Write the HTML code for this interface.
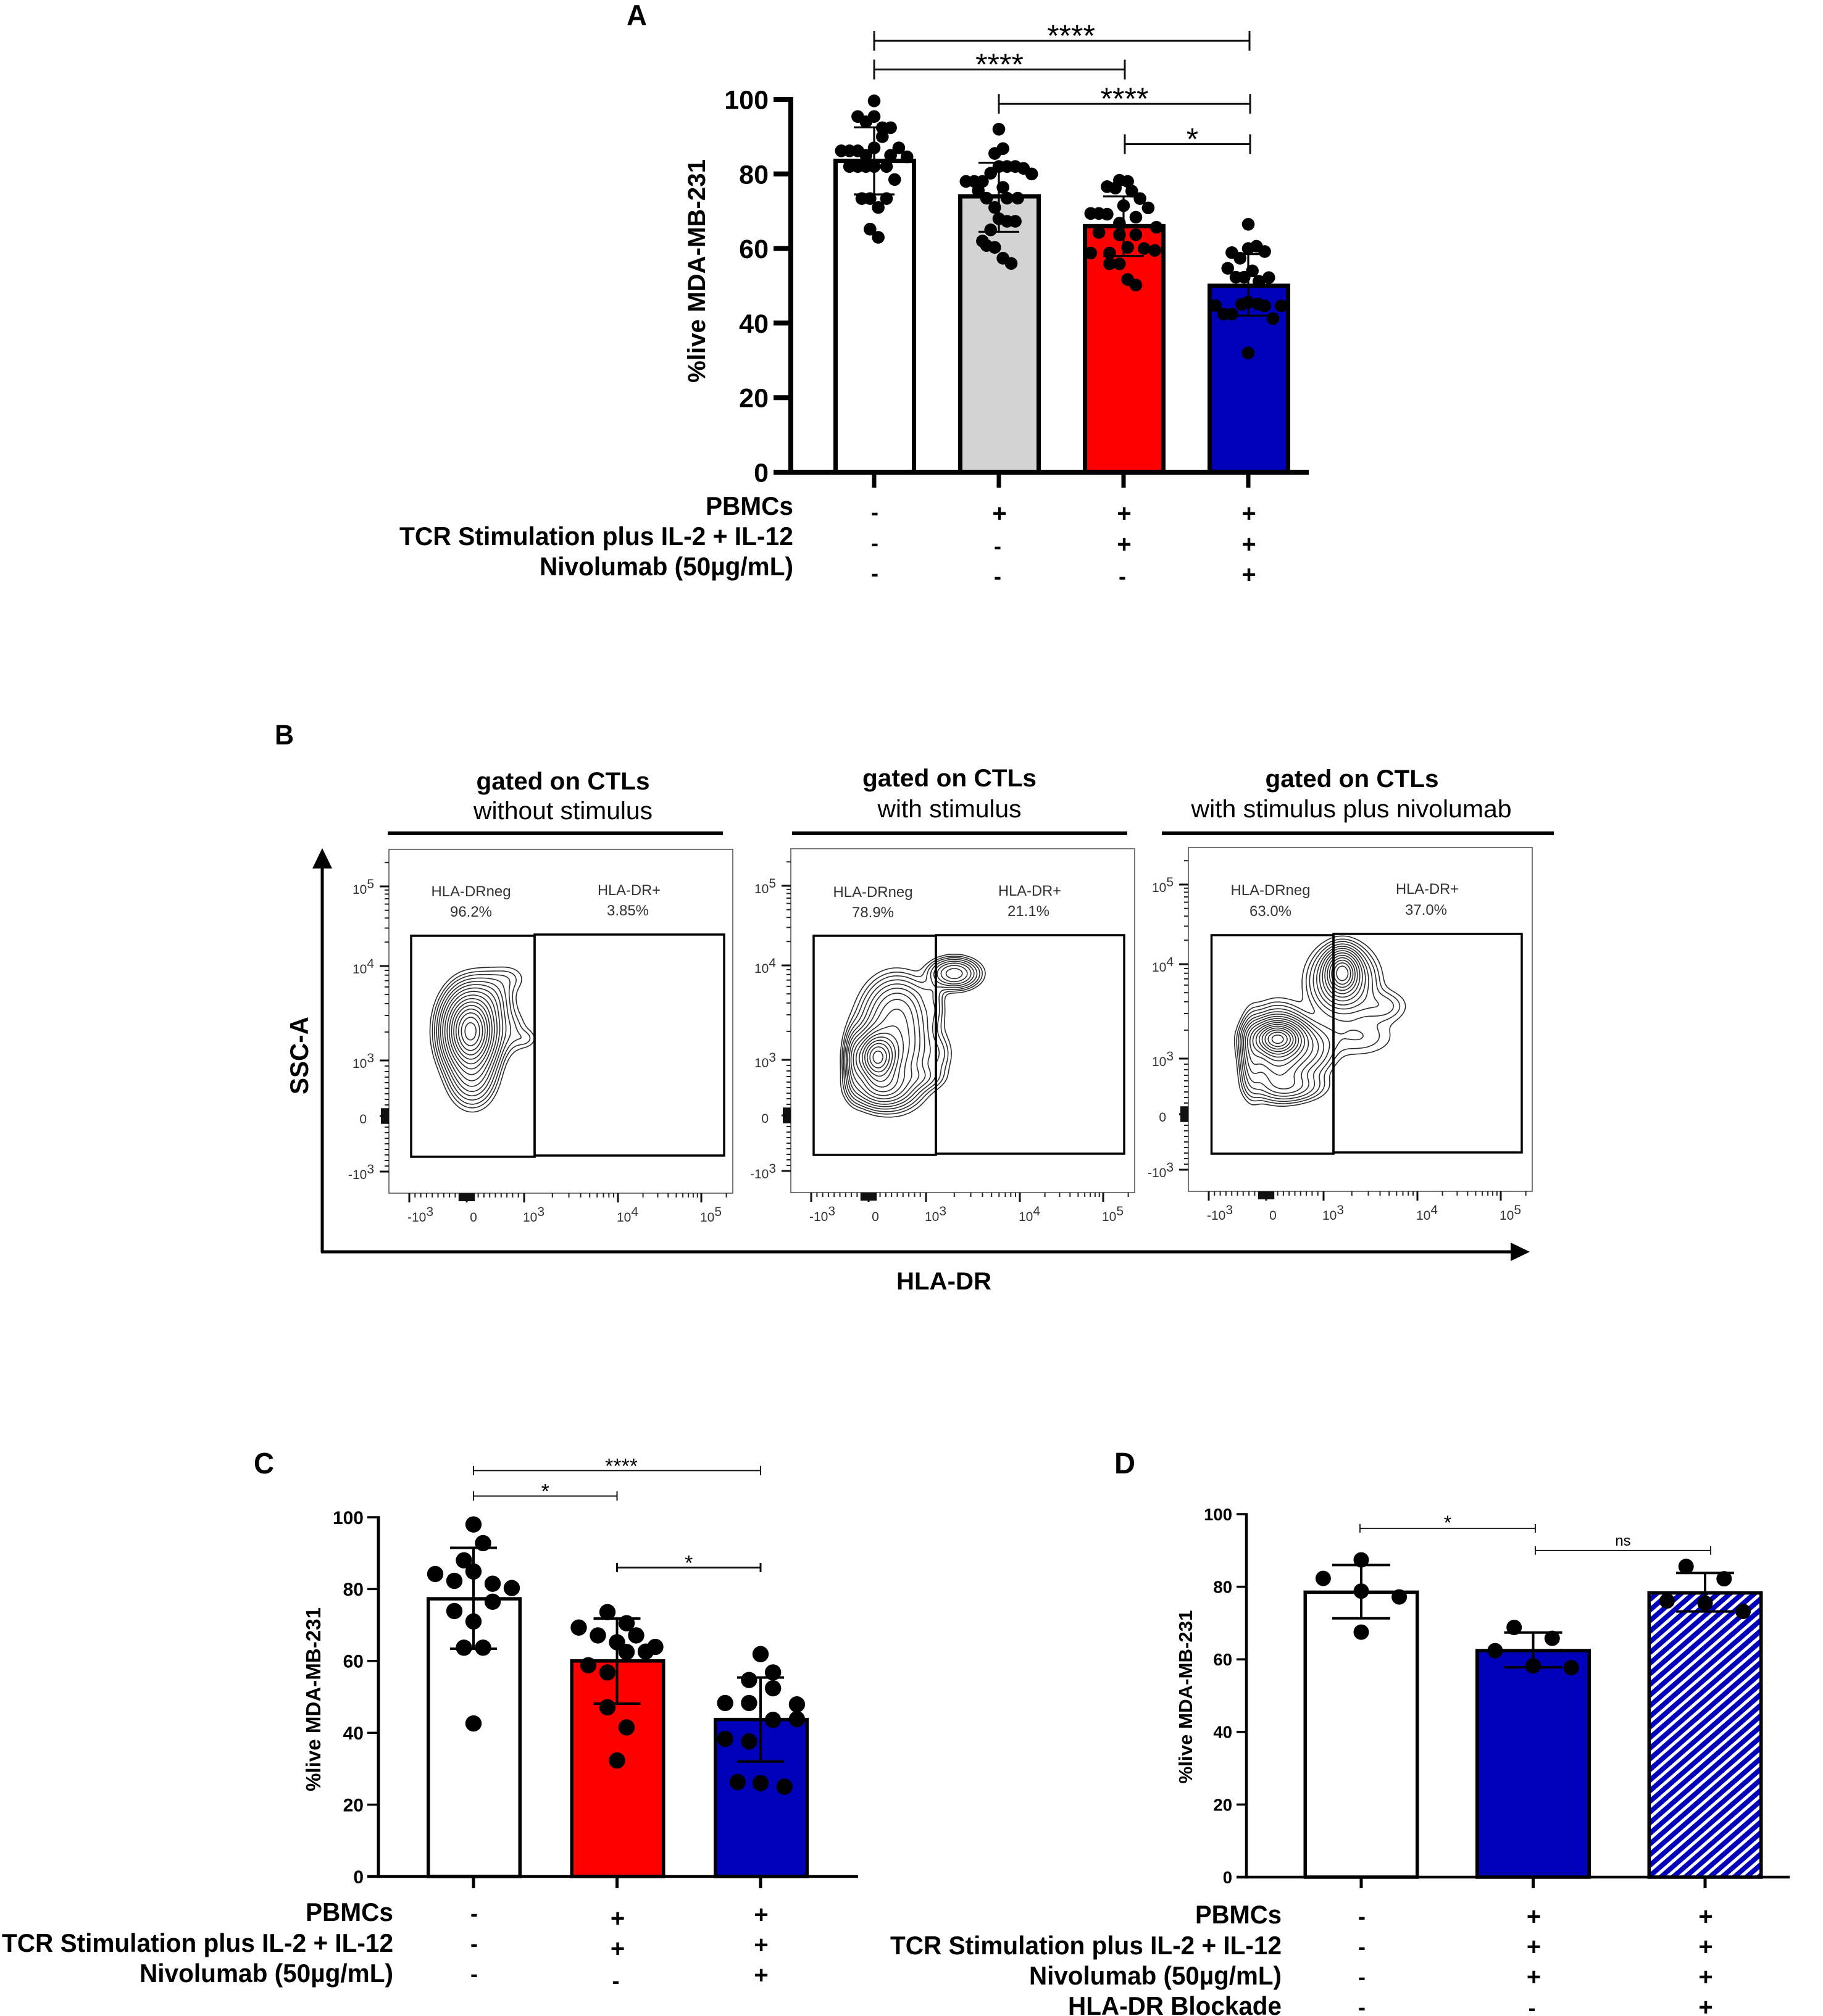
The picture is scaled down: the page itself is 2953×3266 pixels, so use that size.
<!DOCTYPE html>
<html lang="en">
<head>
<meta charset="utf-8">
<title>Figure: live MDA-MB-231 with HLA-DR flow cytometry</title>
<style>
html,body{margin:0;padding:0;background:#fff;}
svg{display:block;}
text{font-family:"Liberation Sans",sans-serif;}
.b{font-weight:700;}
</style>
</head>
<body>
<svg id="fig" xmlns="http://www.w3.org/2000/svg" width="2953" height="3266" viewBox="0 0 2953 3266">
<defs>
<pattern id="hatch" width="13" height="13" patternUnits="userSpaceOnUse" patternTransform="rotate(49)">
<rect width="13" height="13" fill="#fff"/>
<rect width="8" height="13" fill="#0000bb"/>
</pattern>
</defs>
<rect width="2953" height="3266" fill="#fff"/>

<text class="b" x="1015" y="41" font-size="47" textLength="33" lengthAdjust="spacingAndGlyphs">A</text>
<text class="b" x="445" y="1206" font-size="45" textLength="31" lengthAdjust="spacingAndGlyphs">B</text>
<text class="b" x="411" y="2387" font-size="48" textLength="33" lengthAdjust="spacingAndGlyphs">C</text>
<text class="b" x="1805" y="2387" font-size="48" textLength="34" lengthAdjust="spacingAndGlyphs">D</text>

<text class="b" transform="translate(1142,439) rotate(-90)" text-anchor="middle" font-size="40" textLength="362" lengthAdjust="spacingAndGlyphs">%live MDA-MB-231</text>
<text class="b" transform="translate(519,2753) rotate(-90)" text-anchor="middle" font-size="33" textLength="298" lengthAdjust="spacingAndGlyphs">%live MDA-MB-231</text>
<text class="b" transform="translate(1931,2749) rotate(-90)" text-anchor="middle" font-size="31" textLength="281" lengthAdjust="spacingAndGlyphs">%live MDA-MB-231</text>

<g class="b" font-size="42" text-anchor="end">
<text x="1285" y="834" textLength="142" lengthAdjust="spacingAndGlyphs">PBMCs</text>
<text x="1285" y="883" textLength="638" lengthAdjust="spacingAndGlyphs">TCR Stimulation plus IL-2 + IL-12</text>
<text x="1285" y="932" textLength="411" lengthAdjust="spacingAndGlyphs">Nivolumab (50µg/mL)</text>
</g>
<g class="b" font-size="42" text-anchor="end">
<text x="637" y="3112" textLength="142" lengthAdjust="spacingAndGlyphs">PBMCs</text>
<text x="637" y="3162" textLength="634" lengthAdjust="spacingAndGlyphs">TCR Stimulation plus IL-2 + IL-12</text>
<text x="637" y="3211" textLength="411" lengthAdjust="spacingAndGlyphs">Nivolumab (50µg/mL)</text>
</g>
<g class="b" font-size="42" text-anchor="end">
<text x="2076" y="3116" textLength="140" lengthAdjust="spacingAndGlyphs">PBMCs</text>
<text x="2076" y="3166" textLength="634" lengthAdjust="spacingAndGlyphs">TCR Stimulation plus IL-2 + IL-12</text>
<text x="2076" y="3215" textLength="409" lengthAdjust="spacingAndGlyphs">Nivolumab (50µg/mL)</text>
<text x="2076" y="3264" textLength="346" lengthAdjust="spacingAndGlyphs">HLA-DR Blockade</text>
</g>

<g font-size="40" text-anchor="middle">
<text class="b" x="912" y="1279" textLength="281" lengthAdjust="spacingAndGlyphs">gated on CTLs</text>
<text x="912" y="1327" textLength="290" lengthAdjust="spacingAndGlyphs">without stimulus</text>
<rect x="628" y="1347" width="543" height="6"/>
<text class="b" x="1538" y="1274" textLength="282" lengthAdjust="spacingAndGlyphs">gated on CTLs</text>
<text x="1538" y="1324" textLength="233" lengthAdjust="spacingAndGlyphs">with stimulus</text>
<rect x="1283" y="1347" width="543" height="6"/>
<text class="b" x="2190" y="1275" textLength="281" lengthAdjust="spacingAndGlyphs">gated on CTLs</text>
<text x="2189" y="1324" textLength="519" lengthAdjust="spacingAndGlyphs">with stimulus plus nivolumab</text>
<rect x="1882" y="1347" width="635" height="6"/>
</g>

<g>
<line x1="522" y1="1400" x2="522" y2="2029" stroke="#000" stroke-width="5"/>
<polygon points="522,1374 538,1407 506,1407"/>
<line x1="520" y1="2028" x2="2455" y2="2028" stroke="#000" stroke-width="5"/>
<polygon points="2478,2028 2447,2013 2447,2043"/>
<text class="b" transform="translate(499,1710) rotate(-90)" text-anchor="middle" font-size="42" textLength="126" lengthAdjust="spacingAndGlyphs">SSC-A</text>
<text class="b" x="1529" y="2089" text-anchor="middle" font-size="40" textLength="154" lengthAdjust="spacingAndGlyphs">HLA-DR</text>
</g>

<g id="layer"></g>
</svg>

<script>
/* ---------- Panel A data ---------- */
const aCategories = ['control','pbmc','stim','stim-nivolumab'];
const aMeans = [83.5, 74, 66, 50];
const aUpper = [92.5, 83, 74, 58.5];
const aLower = [74.5, 64.5, 58, 42];
const aDots = [
  [99.6,95.4,95.4,94,92.4,92.4,90,87,87,86.2,86.2,86.2,85,85,84.6,82,82,82,82,82,78.5,73.4,73.4,73.4,71,65.2,63],
  [92,86.8,85.5,82,82,81.5,80,82,80.2,78,78,78,76.4,75.5,73.5,73.5,73.5,71,68,67.3,67.3,65,62,60.8,60.3,57.4,56],
  [78.3,78,76.6,76.2,75.4,73.4,71.5,70.9,69.4,69.4,69.2,68.4,66.8,65.7,64.3,63.7,63.7,60.3,60,59.5,58.8,58.8,55.9,55.9,51.7,50.2],
  [66.5,58.9,60,60.6,59.2,57.4,54.7,54,52.3,52.3,52.2,51.2,44.7,45,45.6,45.1,44.6,44.6,42.4,42.4,41.2,32]
];
const aSlots = [
  [0,-2,0,-1,1,2,1,0,3,-4,-3,-2,-1,2,4,-3,-2,-1,0,1.5,2.5,-1.5,-0.5,1.5,0.5,-0.5,0.5],
  [0,0.5,-0.5,0,2,3,4,1,-1,-4,-3,-2,0.5,-2.5,-1.5,1,2.3,-0.5,0,1,2,-1,-2,-1.5,-0.5,0.5,1.5],
  [-0.5,0.5,-2,-1,1,2,0,3,-4,-3,-2,1.5,-0.5,4,-3,-0.5,1.5,0.5,2.5,3.8,-4,-1.7,-1.7,-0.5,0.5,1.5],
  [0,-2,0,1,2,-1,-2.5,0.5,-1.5,-0.5,2.5,1.3,-4,-0.8,0,1.2,2,4,-3,-2,3,0]
];
const aTicks = [0,20,40,60,80,100];
const aBracketFrom = [0,0,1,2];
const aBracketTo = [3,2,3,3];
const aBracketLevel = [115.7,108,98.8,88];
const aBracketLabel = ['****','****','****','*'];
const aSigns = [['-','+','+','+'],['-','-','+','+'],['-','-','-','+']];

/* ---------- Panel C data ---------- */
const cCategories = ['control','stim','stim-nivolumab'];
const cMeans = [77.3, 60, 43.7];
const cUpper = [91.5, 71.8, 55.4];
const cLower = [63.4, 48.1, 32];
const cDots = [
  [98,92.8,88,84.9,84.2,82.3,81.5,80.3,76.5,73.9,71,63.7,63.7,42.6],
  [73.6,70.5,69.3,67.1,67.1,65.2,63.9,62.6,62.5,58.8,56.8,47.1,41.5,32.3],
  [61.9,56.8,54.7,52.4,48.3,48.3,47.9,43.6,43.8,38.3,37.6,26.3,26,25]
];
const cSlots = [
  [0,0.5,-0.5,0,-2,-1,1,2,1,-1,0,-0.5,0.5,0],
  [-0.5,0.5,-2,-1,1,0,2,1.5,0.5,-1.5,-0.5,-0.5,0.5,0],
  [0,0.65,-0.6,0.65,-1.85,-0.6,1.9,0.65,1.9,-1.85,-0.6,-1.2,0,1.25]
];
const cTicks = [0,20,40,60,80,100];
const cBracketFrom = [0,0,1];
const cBracketTo = [2,1,2];
const cBracketLevel = [113,105.9,86];
const cBracketLabel = ['****','*','*'];
const cSigns = [['-','+','+'],['-','+','+'],['-','-','+']];

/* ---------- Panel D data ---------- */
const dCategories = ['control','nivolumab','nivolumab-blockade'];
const dMeans = [78.5, 62.4, 78.3];
const dUpper = [86, 67.4, 83.8];
const dLower = [71.3, 57.8, 73.2];
const dDots = [
  [87.4,82.3,78.8,77.2,67.5],
  [68.8,65.8,62.4,58.2,57.7],
  [85.6,82.2,76.1,75.5,73.2]
];
const dSlots = [
  [0,-1,0,1,0],
  [-0.5,0.5,-1,0,1],
  [-0.5,0.5,-1,0,1]
];
const dTicks = [0,20,40,60,80,100];
const dBracketFrom = [0,1];
const dBracketTo = [1,2];
const dBracketLevel = [96.1,90];
const dBracketLabel = ['*','ns'];
const dSigns = [['-','+','+'],['-','+','+'],['-','+','+'],['-','-','+']];

/* ---------- Panel B flow cytometry data: Gaussian populations (HLA-DR, SSC-A in fluorescence units) ---------- */
const flow1HLA = [65,97,419,1050,742,742];
const flow1SSC = [2050,755,4500,1700,7400,2050];
const flow1SpreadX = [22,20,20,12,18,18];
const flow1SpreadY = [33,28,24,10,14,22];
const flow1Weight = [1,0.13,0.07,0.018,0.02,0.03];

const flow2HLA = [140,462,516,247,-237,1350,2000,1080,1250,892];
const flow2SSC = [1060,1500,3700,522,967,1150,8200,5400,3700,689];
const flow2SpreadX = [18,30,26,26,9,14,21,14,10,22];
const flow2SpreadY = [22,44,26,18,28,20,13,10,22,12];
const flow2Weight = [1,0.35,0.12,0.3,0.15,0.035,0.25,0.02,0.03,0.06];

const flow3HLA = [194,204,-247,387,1580,1600,4300,2330,742];
const flow3SSC = [1640,1250,1080,500,8200,6600,3600,1690,1250];
const flow3SpreadX = [22,25,10,32,14,28,24,38,24];
const flow3SpreadY = [15,33,35,14,18,30,16,20,24];
const flow3Weight = [1,0.4,0.15,0.12,0.7,0.25,0.05,0.04,0.12];

const contourLevels = [0.92,0.8,0.68,0.57,0.47,0.38,0.3,0.23,0.17,0.125,0.09,0.065,0.045,0.03,0.02,0.012];
const flowMajorTicks = [-1000,0,1000,10000,100000];
const flowMinorTicks = [-900,-800,-700,-600,-500,-400,-300,-200,200,300,400,500,600,700,800,900,2000,3000,4000,5000,6000,7000,8000,9000,20000,30000,40000,50000,60000,70000,80000,90000,200000,300000];
const flowDenseTicks = [-130,-110,-90,-70,-50,-30,-10,10,30,50,70,90,110,130];

/* ---------- helpers ---------- */
const NS = 'http://www.w3.org/2000/svg';
const layer = document.getElementById('layer');
function mk(tag, attrs, parent) {
  const el = document.createElementNS(NS, tag);
  for (const k in attrs) el.setAttribute(k, attrs[k]);
  (parent || layer).appendChild(el);
  return el;
}

/* ---------- bar panels ---------- */
function drawBarPanel(p) {
  const g = mk('g', {});
  
  
  const y = v => p.y0 - v * p.k;
  const x = i => p.x0 + i * p.step;

  p.means.forEach((m, i) => {
    const bar = mk('rect', {
      x: x(i) + p.barDx - p.barW / 2 + p.barS / 2,
      y: y(m),
      width: p.barW - p.barS,
      height: p.y0 - y(m),
      fill: p.fills[i], stroke: '#000', 'stroke-width': p.barS
    }, g);
    
    
  });

  p.dots.forEach((series, i) => {
    series.forEach((v, j) => {
      const dot = mk('circle', {
        cx: x(i) + p.slots[i][j] * p.slotUnit,
        cy: y(v), r: p.dotR, fill: '#000'
      }, g);
      
      
    });
  });

  p.means.forEach((m, i) => {
    const d = 'M' + x(i) + ' ' + y(p.upper[i]) + 'V' + y(p.lower[i]) +
      'M' + (x(i) - p.capW) + ' ' + y(p.upper[i]) + 'H' + (x(i) + p.capW) +
      'M' + (x(i) - p.capW) + ' ' + y(p.lower[i]) + 'H' + (x(i) + p.capW);
    const err = mk('path', { d: d, stroke: '#000', 'stroke-width': p.errS, fill: 'none' }, g);
    
    
  });

  const yAxis = mk('line', { x1: p.axisX, x2: p.axisX, y1: y(100) - p.tickS / 2, y2: p.y0 + p.baseS / 2, stroke: '#000', 'stroke-width': p.axisS }, g);
  
  
  const xAxis = mk('line', { x1: p.axisX - p.tickLen, x2: p.axisEnd, y1: p.y0, y2: p.y0, stroke: '#000', 'stroke-width': p.baseS }, g);
  
  

  p.ticks.forEach(t => {
    const tick = mk('line', { x1: p.axisX - p.tickLen, x2: p.axisX, y1: y(t), y2: y(t), stroke: '#000', 'stroke-width': p.tickS }, g);
    
    
    const lab = mk('text', { x: p.labelX, y: y(t) + p.labelFs * 0.36, 'text-anchor': 'end', 'font-size': p.labelFs, 'font-weight': 700 }, g);
    lab.textContent = String(t);
    
    
  });

  p.categories.forEach((c, i) => {
    const tick = mk('line', { x1: x(i), x2: x(i), y1: p.y0, y2: p.xTickEnd, stroke: '#000', 'stroke-width': p.xTickS }, g);
    
    
  });

  p.bracketFrom.forEach((from, i) => {
    const by = y(p.bracketLevel[i]);
    const x1 = x(from) + p.bracketFromDx[i], x2 = x(p.bracketTo[i]) + p.bracketToDx[i];
    const br = mk('path', {
      d: 'M' + x1 + ' ' + (by - p.tipH) + 'V' + (by + p.tipH) + 'M' + x1 + ' ' + by + 'H' + x2 + 'M' + x2 + ' ' + (by - p.tipH) + 'V' + (by + p.tipH),
      stroke: '#111', 'stroke-width': p.bracketS[i], fill: 'none'
    }, g);
    
    
    const label = p.bracketLabel[i];
    const isNs = label === 'ns';
    const fs = isNs ? 24 : p.starFs;
    const lab = mk('text', {
      x: (x1 + x2) / 2 + p.bracketDx[i],
      y: by - p.starUp + (isNs ? 8 : fs * 0.56),
      'text-anchor': 'middle', 'font-size': fs
    }, g);
    lab.textContent = label;
    
    
  });

  p.signs.forEach((row, r) => {
    row.forEach((s, c) => {
      const hy = s === '-';
      const fs = hy ? 36 : 40;
      const shift = (hy && c > 0) ? p.hyphenDy : 0;
      const cy = p.rowY[r] + p.colDy[c] + shift;
      const t = mk('text', {
        x: x(c) + ((hy && c > 0) ? -3 : 0) + 1,
        y: cy + (hy ? fs * 0.28 : fs * 0.32),
        'text-anchor': 'middle', 'font-size': fs, 'font-weight': 700
      }, g);
      t.textContent = s;
      
      
    });
  });
}

drawBarPanel({
  id:'a', categories:aCategories, means:aMeans, upper:aUpper, lower:aLower, dots:aDots, slots:aSlots, ticks:aTicks,
  bracketFrom:aBracketFrom, bracketTo:aBracketTo, bracketLevel:aBracketLevel, bracketLabel:aBracketLabel,
  bracketDx:[15,0,0,8], bracketS:[3,3,3,3], bracketFromDx:[0,0,0,2], bracketToDx:[2,2,3,3], signs:aSigns,
  y0:765, k:6.04, x0:1416, step:202, barW:134, barS:7, barDx:1, fills:['#fff','#d3d3d3','#ff0000','#0000bb'],
  slotUnit:13.3, dotR:10.3, capW:33, errS:3.2, axisX:1281, axisS:8, baseS:8, tickS:8, tickLen:28, axisEnd:2120,
  labelX:1245, labelFs:43, xTickEnd:790, xTickS:7, tipH:16, starFs:50, starUp:19,
  rowY:[832,882,931], colDy:[0,0,0,0], hyphenDy:5
});
drawBarPanel({
  id:'c', categories:cCategories, means:cMeans, upper:cUpper, lower:cLower, dots:cDots, slots:cSlots, ticks:cTicks,
  bracketFrom:cBracketFrom, bracketTo:cBracketTo, bracketLevel:cBracketLevel, bracketLabel:cBracketLabel,
  bracketDx:[7,0,0], bracketS:[2,2,3], bracketFromDx:[0,0,0], bracketToDx:[0,0,0], signs:cSigns,
  y0:3040, k:5.82, x0:767, step:232.5, barW:154, barS:5.5, barDx:1, fills:['#fff','#ff0000','#0000bb'],
  slotUnit:31, dotR:13.2, capW:38, errS:4, axisX:613, axisS:5, baseS:4.5, tickS:3.5, tickLen:18, axisEnd:1390,
  labelX:589, labelFs:30, xTickEnd:3059, xTickS:5, tipH:7.5, starFs:34, starUp:15,
  rowY:[3102,3151,3200], colDy:[0,6,0], hyphenDy:5
});
drawBarPanel({
  id:'d', categories:dCategories, means:dMeans, upper:dUpper, lower:dLower, dots:dDots, slots:dSlots, ticks:dTicks,
  bracketFrom:dBracketFrom, bracketTo:dBracketTo, bracketLevel:dBracketLevel, bracketLabel:dBracketLabel,
  bracketDx:[0,0], bracketS:[1.8,1.8], bracketFromDx:[-2,3.5], bracketToDx:[3.5,9], signs:dSigns,
  y0:3041, k:5.88, x0:2205, step:278.5, barW:187, barS:5.5, barDx:0, fills:['#fff','#0000bb','url(#hatch)'],
  slotUnit:61.6, dotR:12.5, capW:47, errS:4, axisX:2019, axisS:4.5, baseS:4.5, tickS:3.5, tickLen:16, axisEnd:2899,
  labelX:1996, labelFs:27.5, xTickEnd:3059, xTickS:5, tipH:7, starFs:32, starUp:16,
  rowY:[3105,3154,3203,3252], colDy:[2,0,0], hyphenDy:3
});

/* ---------- flow cytometry panels ---------- */
function biex(v, zero, lin, d34, d45) {
  const a = Math.abs(v);
  let r;
  if (a <= 1000) r = a / 1000 * lin;
  else {
    const d = Math.log10(a);
    r = lin + (d < 4 ? (d - 3) * d34 : d34 + (d - 4) * d45);
  }
  return zero + Math.sign(v) * r;
}

function marching(field, nx, ny, level, ox, oy, step) {
  let d = '';
  const lerp = (a, b) => (level - a) / (b - a);
  for (let j = 0; j < ny - 1; j++) {
    for (let i = 0; i < nx - 1; i++) {
      const a = field[j][i], b = field[j][i + 1], c = field[j + 1][i + 1], e = field[j + 1][i];
      const code = (a > level ? 8 : 0) | (b > level ? 4 : 0) | (c > level ? 2 : 0) | (e > level ? 1 : 0);
      if (code === 0 || code === 15) continue;
      const px = ox + i * step, py = oy + j * step;
      const T = () => [px + lerp(a, b) * step, py];
      const R = () => [px + step, py + lerp(b, c) * step];
      const B = () => [px + lerp(e, c) * step, py + step];
      const L = () => [px, py + lerp(a, e) * step];
      const segs = {1:[[L,B]],2:[[B,R]],3:[[L,R]],4:[[T,R]],5:[[L,T],[B,R]],6:[[T,B]],7:[[L,T]],8:[[L,T]],9:[[T,B]],10:[[T,R],[L,B]],11:[[T,R]],12:[[L,R]],13:[[B,R]],14:[[L,B]]}[code];
      segs.forEach(s => {
        const p1 = s[0](), p2 = s[1]();
        d += 'M' + p1[0].toFixed(1) + ' ' + p1[1].toFixed(1) + 'L' + p2[0].toFixed(1) + ' ' + p2[1].toFixed(1);
      });
    }
  }
  return d;
}

function drawFlowPanel(p) {
  const g = mk('g', {});
  
  
  const size = 557;
  const X = v => p.left + biex(v, 126, 93, 152, 135);
  const Y = v => p.bottom - biex(v, 125, 90, 153, 129);

  const frame = mk('rect', { x: p.left, y: p.bottom - size, width: size, height: size, fill: '#fff', stroke: '#555', 'stroke-width': 1.6 }, g);
  
  

  /* ticks */
  let minorD = '', denseD = '', majorD = '';
  flowMinorTicks.forEach(v => {
    if (Y(v) >= p.bottom - size) minorD += 'M' + (p.left - 7) + ' ' + Y(v).toFixed(1) + 'H' + p.left;
    if (X(v) <= p.left + size) minorD += 'M' + X(v).toFixed(1) + ' ' + p.bottom + 'V' + (p.bottom + 7);
  });
  flowDenseTicks.forEach(v => {
    denseD += 'M' + (p.left - 13) + ' ' + Y(v).toFixed(1) + 'H' + p.left;
    denseD += 'M' + X(v).toFixed(1) + ' ' + p.bottom + 'V' + (p.bottom + 13);
  });
  flowMajorTicks.forEach(v => {
    majorD += 'M' + (p.left - 15) + ' ' + Y(v).toFixed(1) + 'H' + p.left;
    majorD += 'M' + X(v).toFixed(1) + ' ' + p.bottom + 'V' + (p.bottom + 15);
  });
  const minor = mk('path', { d: minorD, stroke: '#222', 'stroke-width': 2, fill: 'none' }, g);
  
  
  const dense = mk('path', { d: denseD, stroke: '#111', 'stroke-width': 2.2, fill: 'none' }, g);
  
  
  const major = mk('path', { d: majorD, stroke: '#111', 'stroke-width': 3, fill: 'none' }, g);
  
  

  /* tick labels */
  flowMajorTicks.forEach(v => {
    const xLab = mk('text', { y: p.bottom + 46, 'font-size': 21, fill: '#333' }, g);
    
    
    const yLab = mk('text', { x: p.left - 24, y: Y(v) + 12, 'font-size': 21, fill: '#333', 'text-anchor': 'end' }, g);
    
    
    if (v === 0) {
      xLab.setAttribute('x', X(0) + 11);
      xLab.setAttribute('text-anchor', 'middle');
      xLab.textContent = '0';
      yLab.setAttribute('x', p.left - 36);
      yLab.textContent = '0';
    } else {
      const exp = Math.round(Math.log10(Math.abs(v)));
      xLab.setAttribute('x', X(v) + (v < 0 ? -3 : -2));
      [xLab, yLab].forEach(el => {
        const base = mk('tspan', {}, el);
        base.textContent = (v < 0 ? '-' : '') + '10';
        const sup = mk('tspan', { dy: -9 }, el);
        sup.textContent = String(exp);
      });
    }
  });

  /* density contours */
  const step = 4;
  const ox = p.left + 2, oy = p.bottom - size + 2;
  const nx = Math.floor((size - 4) / step), ny = nx;
  const cx = p.hla.map(X), cy = p.ssc.map(Y);
  const field = [];
  let maxV = 0;
  for (let j = 0; j < ny; j++) {
    const row = [];
    for (let i = 0; i < nx; i++) {
      const px = ox + i * step, py = oy + j * step;
      let s = 0;
      for (let k = 0; k < cx.length; k++) {
        const dx = (px - cx[k]) / p.sx[k], dy = (py - cy[k]) / p.sy[k];
        s += p.w[k] * Math.exp(-0.5 * (dx * dx + dy * dy));
      }
      if (s > maxV) maxV = s;
      row.push(s);
    }
    field.push(row);
  }
  contourLevels.forEach((lv, i) => {
    const c = mk('path', { d: marching(field, nx, ny, lv * maxV, ox, oy, step), fill: 'none', stroke: '#2a2a2a', 'stroke-width': 1.6 }, g);
    
    
  });

  /* gates */
  const gn = mk('rect', { x: p.neg[0], y: p.neg[1], width: p.neg[2], height: p.neg[3], fill: 'none', stroke: '#000', 'stroke-width': 3.5 }, g);
  
  
  const gp = mk('rect', { x: p.pos[0], y: p.pos[1], width: p.pos[2], height: p.pos[3], fill: 'none', stroke: '#000', 'stroke-width': 3.5 }, g);
  
  

  /* gate labels */
  const t1 = mk('text', { x: p.negX, y: p.labY1, 'text-anchor': 'middle', 'font-size': 24, fill: '#333', textLength: 129, lengthAdjust: 'spacingAndGlyphs' }, g);
  t1.textContent = 'HLA-DRneg';
  
  
  const t2 = mk('text', { x: p.negX, y: p.labY2, 'text-anchor': 'middle', 'font-size': 24, fill: '#333' }, g);
  t2.textContent = p.negPct;
  
  
  const t3 = mk('text', { x: p.posX, y: p.labY1 - 2, 'text-anchor': 'middle', 'font-size': 24, fill: '#333', textLength: 102, lengthAdjust: 'spacingAndGlyphs' }, g);
  t3.textContent = 'HLA-DR+';
  
  
  const t4 = mk('text', { x: p.posX - 2, y: p.labY2 - 2, 'text-anchor': 'middle', 'font-size': 24, fill: '#333' }, g);
  t4.textContent = p.posPct;
  
  
}

drawFlowPanel({
  id:'b1', left:630, bottom:1933, hla:flow1HLA, ssc:flow1SSC, sx:flow1SpreadX, sy:flow1SpreadY, w:flow1Weight,
  neg:[666,1516,200,358], pos:[866,1514,307,358], negX:763, posX:1019, labY1:1452, labY2:1485, negPct:'96.2%', posPct:'3.85%'
});
drawFlowPanel({
  id:'b2', left:1281, bottom:1932, hla:flow2HLA, ssc:flow2SSC, sx:flow2SpreadX, sy:flow2SpreadY, w:flow2Weight,
  neg:[1318,1516,198,355], pos:[1516,1515,305,354], negX:1414, posX:1668, labY1:1453, labY2:1486, negPct:'78.9%', posPct:'21.1%'
});
drawFlowPanel({
  id:'b3', left:1925, bottom:1930, hla:flow3HLA, ssc:flow3SSC, sx:flow3SpreadX, sy:flow3SpreadY, w:flow3Weight,
  neg:[1962.5,1515,197.5,354], pos:[2160,1513,305,354], negX:2058, posX:2312, labY1:1450, labY2:1484, negPct:'63.0%', posPct:'37.0%'
});
</script>
</body>
</html>
